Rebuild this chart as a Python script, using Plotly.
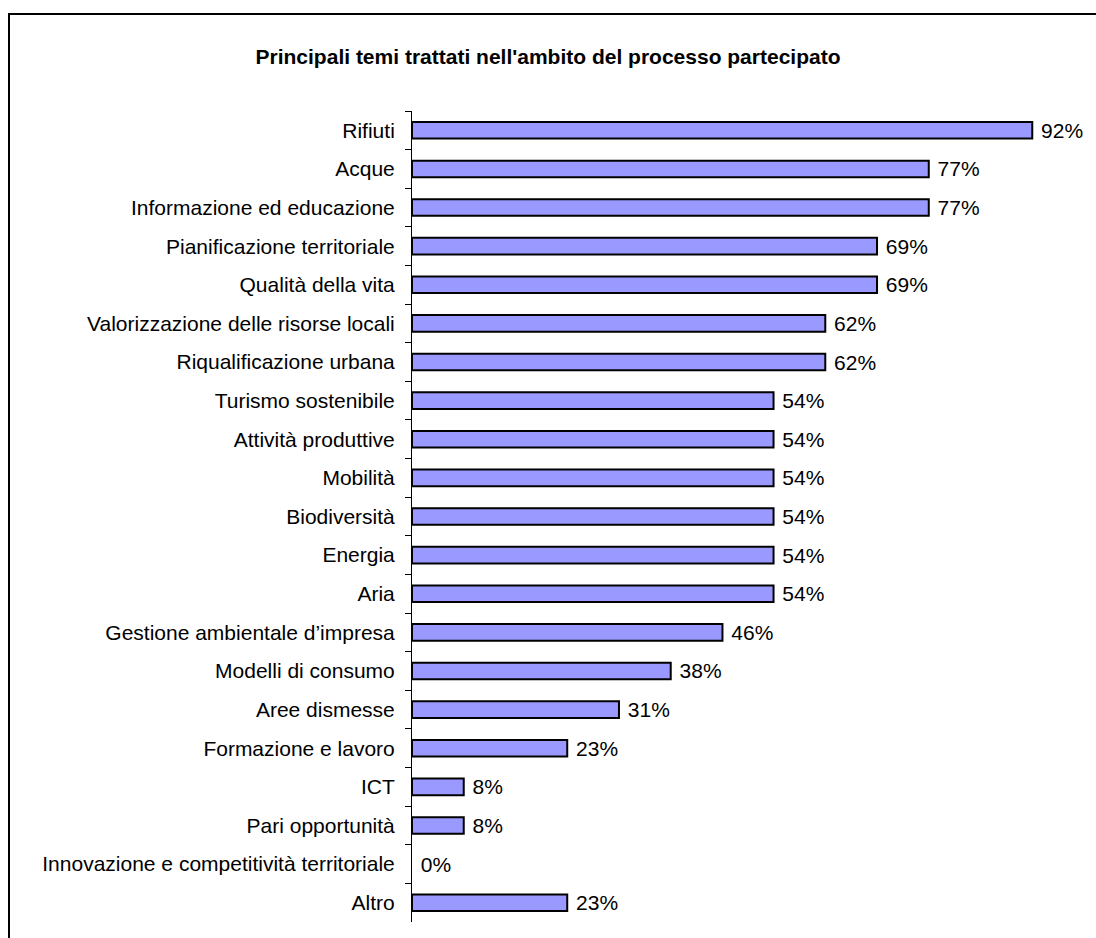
import plotly.graph_objects as go

categories = [
    "Rifiuti", "Acque", "Informazione ed educazione", "Pianificazione territoriale",
    "Qualità della vita", "Valorizzazione delle risorse locali", "Riqualificazione urbana",
    "Turismo sostenibile", "Attività produttive", "Mobilità", "Biodiversità", "Energia",
    "Aria", "Gestione ambientale d’impresa", "Modelli di consumo", "Aree dismesse",
    "Formazione e lavoro", "ICT", "Pari opportunità",
    "Innovazione e competitività territoriale", "Altro",
]
values = [92.3, 76.9, 76.9, 69.2, 69.2, 61.5, 61.5, 53.8, 53.8, 53.8, 53.8, 53.8,
          53.8, 46.2, 38.5, 30.8, 23.1, 7.7, 7.7, 0.0, 23.1]
labels = ["92%", "77%", "77%", "69%", "69%", "62%", "62%", "54%", "54%", "54%", "54%",
          "54%", "54%", "46%", "38%", "31%", "23%", "8%", "8%", "0%", "23%"]

title = "Principali temi trattati nell'ambito del processo partecipato"

FONT = "Liberation Sans, Arial, sans-serif"
FS = 21

outline_w = [2 if v > 0 else 0 for v in values]

fig = go.Figure(go.Bar(
    y=categories, x=values, orientation="h",
    marker=dict(color="#9999FF", line=dict(color="#000000", width=outline_w)),
    text=labels, texttemplate=" %{text}", textposition="outside", cliponaxis=False,
    constraintext="none",
    textfont=dict(family=FONT, size=FS, color="#000000"),
    hoverinfo="skip",
))

W, H = 1096, 938
L, R, T, B = 412, 12, 111, 16
pw = W - L - R
ph = H - T - B

fig.update_layout(
    width=W, height=H,
    margin=dict(l=L, r=R, t=T, b=B),
    paper_bgcolor="white", plot_bgcolor="white",
    bargap=0.57,
    showlegend=False,
    font=dict(family=FONT, size=FS, color="#000000"),
    title=dict(text="<b>" + title + "</b>", x=0.5, xanchor="center", xref="container",
               y=1 - 57 / H, yanchor="middle",
               font=dict(family=FONT, size=FS, color="#000000")),
    xaxis=dict(range=[0, 100], visible=False, fixedrange=True),
    yaxis=dict(autorange="reversed", type="category", showline=True, linecolor="#000000",
               linewidth=1, ticks="outside", ticklen=6, tickcolor="#000000",
               tickson="boundaries", ticklabelstandoff=12, showgrid=False,
               fixedrange=True,
               tickfont=dict(family=FONT, size=FS, color="#000000")),
    shapes=[dict(type="rect", xref="paper", yref="paper",
                 x0=(9 - L) / pw, x1=(W + 20 - L) / pw,
                 y0=-(B + 20) / ph, y1=1 + (T - 14) / ph,
                 line=dict(color="#000000", width=2), fillcolor="rgba(0,0,0,0)")],
)

fig.write_html(
    "out.html",
    config={"displayModeBar": False},
    post_script="document.body.style.margin='0';document.body.style.overflow='hidden';",
)
